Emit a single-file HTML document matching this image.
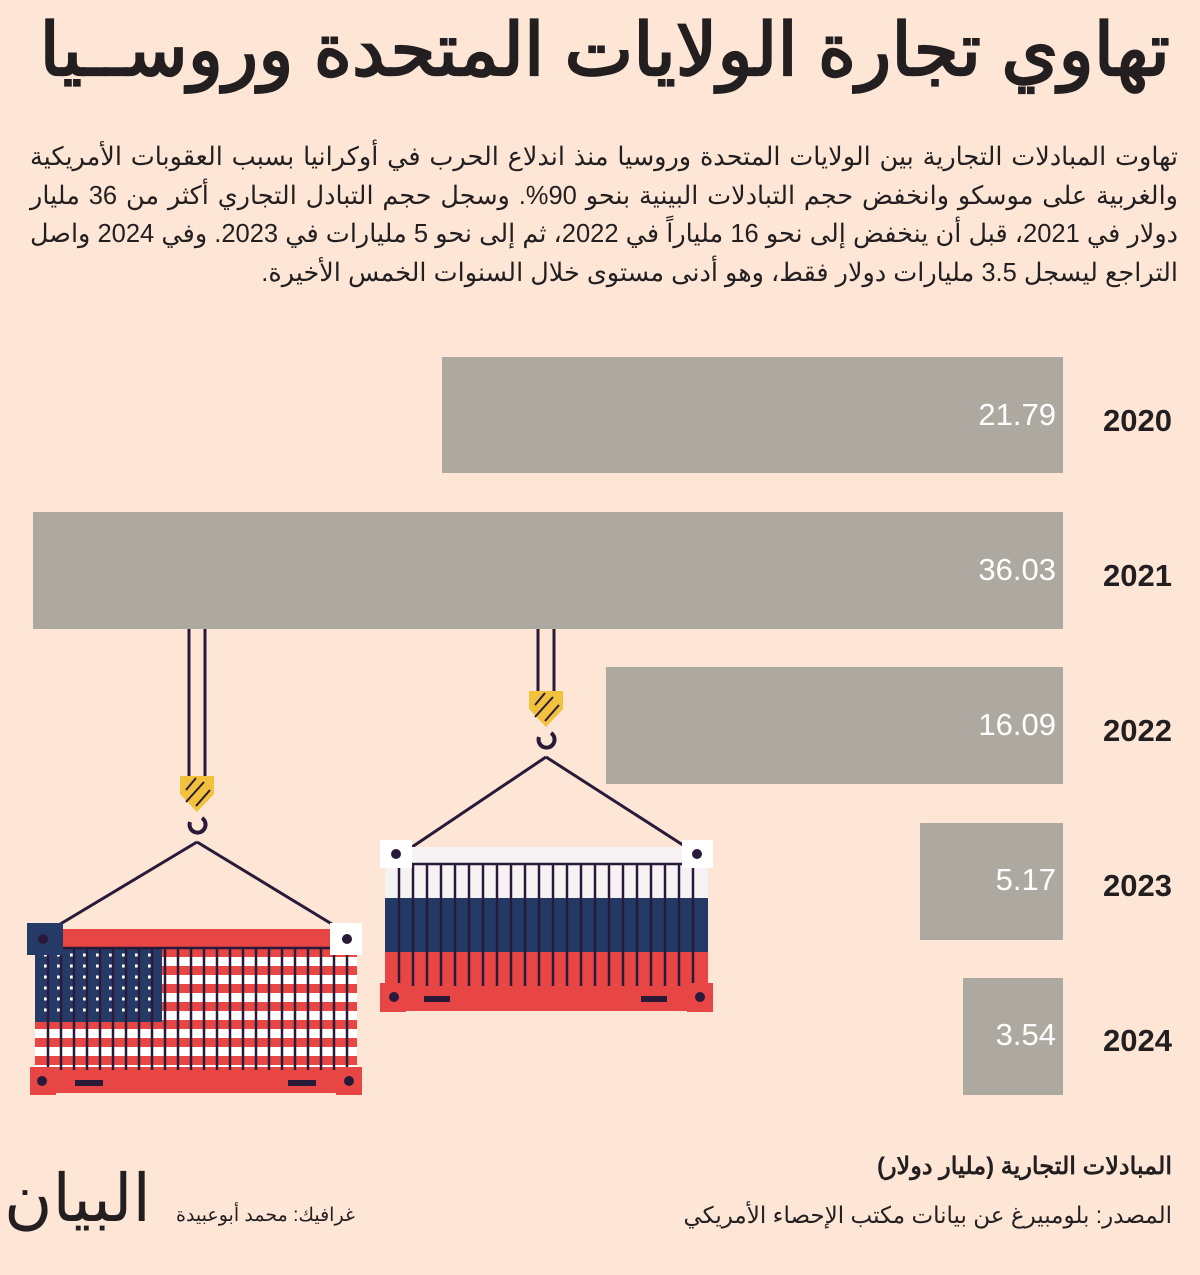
<!DOCTYPE html>
<html><head><meta charset="utf-8">
<style>
body{margin:0;background:#fde6d6;}
#w{position:relative;width:1200px;height:1275px;background:#fde6d6;overflow:hidden;font-family:"Liberation Sans","Noto Sans CJK SC",sans-serif;color:#231f20}
h1{position:absolute;right:30px;top:8px;margin:0;font-size:73px;font-weight:bold;direction:rtl;white-space:nowrap;letter-spacing:0}
#p{position:absolute;right:22px;left:30px;top:138px;direction:rtl;text-align:justify;text-align-last:right;font-size:25.5px;line-height:38.5px}
.t{position:absolute;direction:rtl;white-space:nowrap}
</style></head><body><div id="w">
<h1>تهاوي تجارة الولايات المتحدة وروســيا</h1>
<div id="p">تهاوت المبادلات التجارية بين الولايات المتحدة وروسيا منذ اندلاع الحرب في أوكرانيا بسبب العقوبات الأمريكية والغربية على موسكو وانخفض حجم التبادلات البينية بنحو 90%. وسجل حجم التبادل التجاري أكثر من 36 مليار دولار في 2021، قبل أن ينخفض إلى نحو 16 ملياراً في 2022، ثم إلى نحو 5 مليارات في 2023. وفي 2024 واصل التراجع ليسجل 3.5 مليارات دولار فقط، وهو أدنى مستوى خلال السنوات الخمس الأخيرة.</div>
<svg width="1200" height="1275" style="position:absolute;left:0;top:0" font-family="Liberation Sans, sans-serif">
<g fill="#aea9a0">
<rect x="442" y="357" width="621" height="116"/>
<rect x="33" y="512" width="1030" height="117"/>
<rect x="606" y="667" width="457" height="117"/>
<rect x="920" y="823" width="143" height="117"/>
<rect x="963" y="978" width="100" height="117"/>
</g>
<g fill="#fff" font-size="31" text-anchor="end">
<text x="1056" y="425">21.79</text><text x="1056" y="580">36.03</text><text x="1056" y="735">16.09</text><text x="1056" y="890">5.17</text><text x="1056" y="1045">3.54</text>
</g>
<g fill="#231f20" font-size="31" font-weight="bold" text-anchor="end">
<text x="1172" y="431">2020</text><text x="1172" y="586">2021</text><text x="1172" y="741">2022</text><text x="1172" y="896">2023</text><text x="1172" y="1051">2024</text>
</g>
<g stroke="#2a1a3a" stroke-width="3" fill="none">
<line x1="189" y1="629" x2="189" y2="776"/><line x1="205" y1="629" x2="205" y2="776"/>
<line x1="538" y1="629" x2="538" y2="691"/><line x1="554" y1="629" x2="554" y2="691"/>
<line x1="197" y1="842" x2="52" y2="929"/><line x1="197" y1="842" x2="340" y2="929"/>
<line x1="546" y1="757" x2="412" y2="847"/><line x1="546" y1="757" x2="686" y2="847"/>
<path d="M190 822 a8 8 0 1 0 12 -4" stroke-width="4"/>
<path d="M539 737 a8 8 0 1 0 12 -4" stroke-width="4"/>
</g>
<path d="M180 776h34v18l-17 18l-17-18z" fill="#f2c23c"/>
<path d="M529 691h34v18l-17 18l-17-18z" fill="#f2c23c"/>
<g stroke="#2a1a3a" stroke-width="2"><path d="M186 790l10-12M186 802l18-20M196 806l14-16"/><path d="M535 705l10-12M535 717l18-20M545 721l14-16"/></g>
<rect x="35" y="948" width="322" height="127" fill="#fff"/>
<g fill="#e84545">
<rect x="35" y="948" width="322" height="9"/><rect x="35" y="966" width="322" height="9"/><rect x="35" y="984" width="322" height="9"/><rect x="35" y="1002" width="322" height="9"/><rect x="35" y="1020" width="322" height="9"/><rect x="35" y="1038" width="322" height="9"/><rect x="35" y="1056" width="322" height="9"/>
<rect x="60" y="929" width="270" height="18"/>
<rect x="30" y="1067" width="332" height="26"/>
</g>
<rect x="35" y="947" width="127" height="75" fill="#253a66"/>
<g fill="#fff"><path d="M44 955h110M44 966h110M44 977h110M44 988h110M44 999h110M44 1010h110" stroke="#fff" stroke-width="3" stroke-dasharray="3 10"/></g>
<g stroke="#2a1a3a" stroke-width="2.5">
<path d="M48 948V1070M61 948V1070M74 948V1070M87 948V1070M100 948V1070M113 948V1070M126 948V1070M139 948V1070M152 948V1070M165 948V1070M178 948V1070M191 948V1070M204 948V1070M217 948V1070M230 948V1070M243 948V1070M256 948V1070M269 948V1070M282 948V1070M295 948V1070M308 948V1070M321 948V1070M334 948V1070M347 948V1070"/>
<line x1="35" y1="948" x2="357" y2="948"/>
</g>
<rect x="27" y="923" width="36" height="32" fill="#253a66"/><circle cx="43" cy="939" r="5" fill="#2a1a3a"/>
<rect x="330" y="923" width="32" height="32" fill="#fff"/><circle cx="347" cy="939" r="5" fill="#2a1a3a"/>
<rect x="30" y="1067" width="26" height="28" fill="#e84545"/><circle cx="42" cy="1081" r="5" fill="#2a1a3a"/>
<rect x="336" y="1067" width="26" height="28" fill="#e84545"/><circle cx="349" cy="1081" r="5" fill="#2a1a3a"/>
<rect x="75" y="1080" width="28" height="6" fill="#2a1a3a"/><rect x="288" y="1080" width="28" height="6" fill="#2a1a3a"/>
<rect x="385" y="847" width="323" height="51" fill="#f7f3f5"/>
<rect x="385" y="898" width="323" height="54" fill="#233a66"/>
<rect x="385" y="952" width="323" height="40" fill="#e84545"/>
<rect x="380" y="985" width="333" height="26" fill="#e84545"/>
<g stroke="#2a1a3a" stroke-width="2.5">
<path d="M399 864V986M413 864V986M427 864V986M441 864V986M455 864V986M469 864V986M483 864V986M497 864V986M511 864V986M525 864V986M539 864V986M553 864V986M567 864V986M581 864V986M595 864V986M609 864V986M623 864V986M637 864V986M651 864V986M665 864V986M679 864V986M693 864V986"/>
<line x1="385" y1="864" x2="708" y2="864"/>
</g>
<rect x="380" y="840" width="32" height="28" fill="#fff"/><circle cx="396" cy="854" r="5" fill="#2a1a3a"/>
<rect x="682" y="840" width="31" height="28" fill="#fff"/><circle cx="697" cy="854" r="5" fill="#2a1a3a"/>
<rect x="380" y="983" width="26" height="29" fill="#e84545"/><circle cx="394" cy="997" r="5" fill="#2a1a3a"/>
<rect x="687" y="983" width="26" height="29" fill="#e84545"/><circle cx="700" cy="997" r="5" fill="#2a1a3a"/>
<rect x="424" y="996" width="26" height="6" fill="#2a1a3a"/><rect x="641" y="996" width="26" height="6" fill="#2a1a3a"/>
</svg>
<div class="t" style="right:28px;top:1152px;font-size:24px;font-weight:bold">المبادلات التجارية (مليار دولار)</div>
<div class="t" style="right:28px;top:1202px;font-size:23px">المصدر: بلومبيرغ عن بيانات مكتب الإحصاء الأمريكي</div>
<div class="t" style="left:176px;top:1204px;font-size:19px">غرافيك: محمد أبوعبيدة</div>
<div class="t" style="left:4px;top:1160px;font-size:66px;font-family:'Liberation Serif','Noto Serif CJK SC',serif">البيان</div>
</div></body></html>
